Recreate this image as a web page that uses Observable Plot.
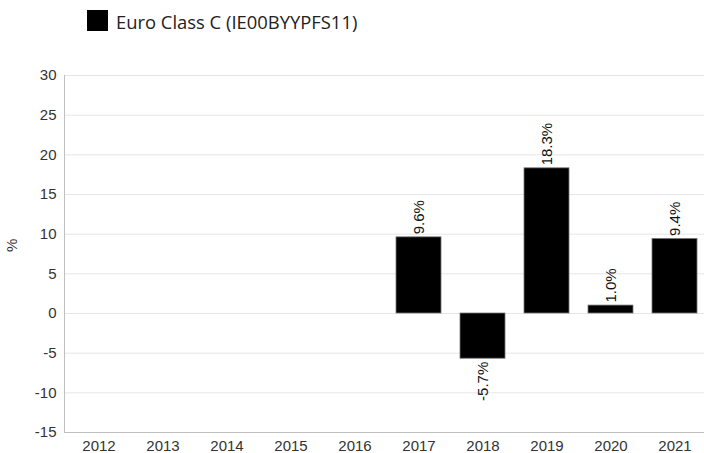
<!DOCTYPE html>
<html>
<head>
<meta charset="utf-8">
<script src="https://cdn.jsdelivr.net/npm/d3@7"></script>
<script src="https://cdn.jsdelivr.net/npm/@observablehq/plot@0.6"></script>
<style>
  html, body { margin: 0; padding: 0; background: #fff; }
  #wrap { width: 704px; height: 453px; position: relative; overflow: hidden; }
  #legend { height: 40px; position: relative; font-family: "Open Sans", sans-serif; font-size: 18.4px; color: #222; }
  #legend .sw { position: absolute; left: 87px; top: 10px; width: 21px; height: 21px; background: #000; }
  #legend .lb { position: absolute; left: 116px; top: 11px; line-height: 22px; white-space: nowrap; }
  svg { display: block; overflow: visible; }
  #chart svg text { font-family: "Liberation Sans", Arial, sans-serif; font-size: 15px; }
</style>
</head>
<body>
<div id="wrap">
  <div id="legend"><div class="sw"></div><div class="lb" id="lb"></div></div>
  <div id="chart"></div>
</div>
<script>
const seriesName = "Euro Class C (IE00BYYPFS11)";
const years = ["2012", "2013", "2014", "2015", "2016", "2017", "2018", "2019", "2020", "2021"];
const returns = [null, null, null, null, null, 9.6, -5.7, 18.3, 1.0, 9.4];
const yTicks = [-15, -10, -5, 0, 5, 10, 15, 20, 25, 30];
const yLabel = "%";

document.getElementById("lb").textContent = seriesName;

const data = years.map((year, i) => ({year, value: returns[i]})).filter(d => d.value != null);
const fmt = d => d.value.toFixed(1) + "%";

const chart = Plot.plot({
  width: 704,
  height: 413,
  marginLeft: 64,
  marginRight: 0,
  marginTop: 35,
  marginBottom: 21,
  style: {fontFamily: "'Liberation Sans', Arial, sans-serif", fontSize: "15px", color: "#333", background: "#fff", overflow: "visible"},
  x: {domain: years, range: [65, 708], paddingInner: 0.3, paddingOuter: 0.15},
  y: {domain: [-15, 30]},
  marks: [
    Plot.ruleY(yTicks, {stroke: "#e6e6e6", strokeWidth: 1}),
    Plot.ruleY([-15], {stroke: "#c0c0c0", strokeWidth: 1}),
    Plot.frame({anchor: "left", stroke: "#c0c0c0"}),
    Plot.barY(data, {x: "year", y: "value", fill: "#000", stroke: "#777", strokeWidth: 0.8}),
    Plot.text(data.filter(d => d.value >= 0), {
      x: "year", y: "value", text: fmt,
      rotate: -90, textAnchor: "start", dy: -3, fill: "#111", fontSize: 15
    }),
    Plot.text(data.filter(d => d.value < 0), {
      x: "year", y: "value", text: fmt,
      rotate: -90, textAnchor: "end", dy: 3, fill: "#111", fontSize: 15
    }),
    Plot.axisY({ticks: yTicks, tickFormat: d => String(d), tickSize: 0, tickPadding: 8, label: null, fontSize: 15, fill: "#333"}),
    Plot.axisX({tickSize: 0, tickPadding: 8, label: null, fontSize: 15, fill: "#333"}),
    Plot.text([yLabel], {frameAnchor: "left", dx: -52, dy: -2, rotate: -90, fontSize: 15, fill: "#333"})
  ]
});
document.getElementById("chart").appendChild(chart);
</script>
</body>
</html>
